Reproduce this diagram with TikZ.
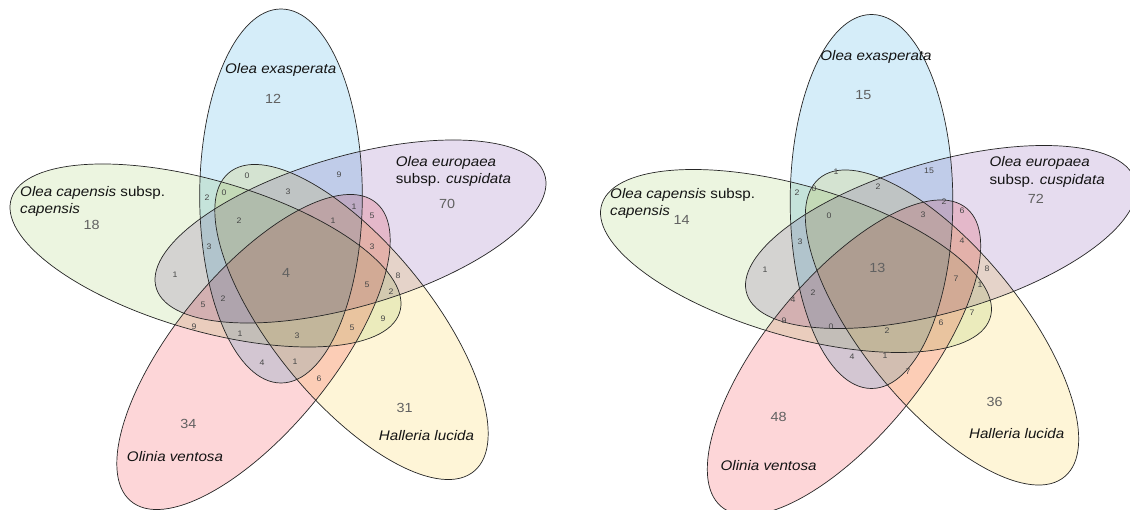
\documentclass[tikz,border=0pt]{standalone}
\usepackage{fontspec}
\setmainfont{Liberation Sans}

\definecolor{vblue}{RGB}{213,237,249}
\definecolor{vpurple}{RGB}{230,220,239}
\definecolor{vgreen}{RGB}{236,245,224}
\definecolor{vred}{RGB}{253,214,216}
\definecolor{vyellow}{RGB}{254,245,215}

\tikzset{
  setname/.style={font=\fontsize{13.9}{17.5}\selectfont, xscale=1.09, inner sep=0pt, text=black!92},
  bignum/.style={font=\fontsize{13.2}{15}\selectfont, xscale=1.09, inner sep=0pt, text=black!62},
  smallnum/.style={font=\fontsize{8}{9}\selectfont, xscale=1.09, inner sep=0pt, text=black!72},
  outline/.style={draw=black!85, line width=0.7pt}
}

\begin{document}
\begin{tikzpicture}[x=1pt,y=1pt]
\path[use as bounding box, fill=white] (0,0) rectangle (1130,-510);

% two five-set Venn diagrams: same ellipses, shifted
\foreach \dx/\dy in {0/0, 590.5/5.5} {
  \begin{scope}[shift={(\dx,-\dy)}]
    \begin{scope}[blend mode=multiply]
      \foreach \cx/\cy/\ang/\col in {281/196/90/vblue, 350.5/231.5/18/vpurple,
                                     351.5/322/-54/vyellow, 253.5/352/54/vred,
                                     205.5/255.5/162/vgreen}
        \fill[\col, shift={(\cx,-\cy)}, xscale=1.09, rotate=\ang]
          (0,0) ellipse [x radius=187, y radius=74.6];
    \end{scope}
    \foreach \cx/\cy/\ang in {281/196/90, 350.5/231.5/18, 351.5/322/-54,
                              253.5/352/54, 205.5/255.5/162}
      \draw[outline, shift={(\cx,-\cy)}, xscale=1.09, rotate=\ang]
        (0,0) ellipse [x radius=187, y radius=74.6];
  \end{scope}
}

% ---- left diagram: set names
\node[setname] (la) at (280.7,-70) {\textit{Olea exasperata}};
\node[setname, anchor=west, align=left] (lb) at (395.7,-171.5) {\textit{Olea europaea}\\subsp. \textit{cuspidata}};
\node[setname, anchor=west, align=left] (lc) at (20,-201.5) {\textit{Olea capensis} subsp.\\\textit{capensis}};
\node[setname] (ld) at (175,-457) {\textit{Olinia ventosa}};
\node[setname] (le) at (426.5,-436) {\textit{Halleria lucida}};

% left diagram: counts of single sets and of all five
\foreach \x/\y/\t [count=\i] in {273/99/12, 447/204/70, 91.7/225/18, 188.3/424.3/34,
                                 404.7/408.3/31, 286/273/4}
  \node[bignum] (lbig\i) at (\x,-\y) {\t};

% left diagram: counts of the overlaps
\foreach \x/\y/\t [count=\i] in {247/176/0, 339/175/9, 207/198/2, 224/193/0, 288/192/3,
    354/207/1, 372/216/5, 239/221/2, 333/221/1, 209/247/3, 372/247/3, 175/275/1,
    398/276/8, 367/285/5, 391/292/2, 223/299/2, 203/305/5, 383/319/9, 194/327/9,
    240/334/1, 297/336/3, 352/328/5, 262/363/4, 295/362/1, 319/379/6}
  \node[smallnum] (lsm\i) at (\x,-\y) {\t};

% ---- right diagram: set names
\node[setname] (ra) at (876,-57) {\textit{Olea exasperata}};
\node[setname, anchor=west, align=left] (rb) at (989.4,-172) {\textit{Olea europaea}\\subsp. \textit{cuspidata}};
\node[setname, anchor=west, align=left] (rc) at (610,-203.3) {\textit{Olea capensis} subsp.\\\textit{capensis}};
\node[setname] (rd) at (768.6,-466) {\textit{Olinia ventosa}};
\node[setname] (re) at (1016.7,-434) {\textit{Halleria lucida}};

% right diagram: counts of single sets and of all five
\foreach \x/\y/\t [count=\i] in {863.3/95/15, 1035.9/199.3/72, 681.7/220/14,
                                 778.7/417.3/48, 994.7/401.7/36, 877.3/267.5/13}
  \node[bignum] (rbig\i) at (\x,-\y) {\t};

% right diagram: counts of the overlaps
\foreach \x/\y/\t [count=\i] in {836/172/1, 929/171/15, 797/193/2, 814/189/0, 878/187/2,
    944/202/2, 962/211/6, 829/216/0, 923/215/3, 800/242/3, 962/241/4, 765/270/1,
    987/269/8, 956/279/7, 980/285/1, 813/293/2, 793/300/4, 972/313/7, 941/323/6,
    887/331/2, 852/357/4, 885/356/1, 908/372/7, 784/321/9, 831/327/0}
  \node[smallnum] (rsm\i) at (\x,-\y) {\t};
\end{tikzpicture}
\end{document}
